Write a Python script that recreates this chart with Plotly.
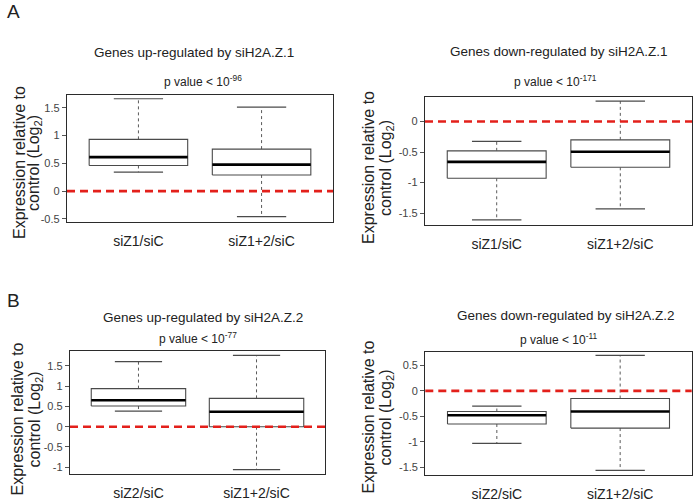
import plotly.graph_objects as go

W, H = 696, 503

# ---------------- data ----------------
categories_A = ["siZ1/siC", "siZ1+2/siC"]
categories_B = ["siZ2/siC", "siZ1+2/siC"]

# Genes up-regulated by siH2A.Z.1
up1_lower = [0.34, -0.46]
up1_q1 = [0.46, 0.29]
up1_med = [0.61, 0.475]
up1_q3 = [0.93, 0.755]
up1_upper = [1.66, 1.51]

# Genes down-regulated by siH2A.Z.1
down1_lower = [-1.61, -1.43]
down1_q1 = [-0.93, -0.75]
down1_med = [-0.66, -0.495]
down1_q3 = [-0.48, -0.30]
down1_upper = [-0.326, 0.336]

# Genes up-regulated by siH2A.Z.2
up2_lower = [0.385, -1.06]
up2_q1 = [0.51, 0.0]
up2_med = [0.655, 0.37]
up2_q3 = [0.94, 0.70]
up2_upper = [1.61, 1.76]

# Genes down-regulated by siH2A.Z.2
down2_lower = [-1.03, -1.56]
down2_q1 = [-0.65, -0.73]
down2_med = [-0.477, -0.405]
down2_q3 = [-0.405, -0.15]
down2_upper = [-0.30, 0.696]

ticks_up1 = [1.5, 1, 0.5, 0, -0.5]
ticks_down1 = [0, -0.5, -1, -1.5]
ticks_up2 = [1.5, 1, 0.5, 0, -0.5, -1]
ticks_down2 = [0.5, 0, -0.5, -1, -1.5]

titles = ["Genes up-regulated by siH2A.Z.1", "Genes down-regulated by siH2A.Z.1",
          "Genes up-regulated by siH2A.Z.2", "Genes down-regulated by siH2A.Z.2"]
pvals = ["p value < 10<sup>-96</sup>", "p value < 10<sup>-171</sup>",
         "p value < 10<sup>-77</sup>", "p value < 10<sup>-11</sup>"]
ylabel1 = "Expression relative to"
ylabel2 = "control (Log<sub>2</sub>)"
panel_letters = ["A", "B"]

# ---------------- layout helpers ----------------
FONT = "Liberation Sans, Arial, Helvetica, sans-serif"

def px_x(p):
    return p / W

def px_y(p):
    return 1 - p / H

panels = [
    dict(cats=categories_A, lo=up1_lower, q1=up1_q1, med=up1_med, q3=up1_q3, hi=up1_upper,
         ticks=ticks_up1, yr=[-0.55, 1.72], box=(67, 333, 96, 223),
         title_xy=(194, 53), p_xy=(203, 81), ylab_x=(19, 34), ylab_y=164),
    dict(cats=categories_A, lo=down1_lower, q1=down1_q1, med=down1_med, q3=down1_q3, hi=down1_upper,
         ticks=ticks_down1, yr=[-1.69, 0.396], box=(425, 692, 98, 226),
         title_xy=(559, 52), p_xy=(555, 81), ylab_x=(369, 387), ylab_y=169),
    dict(cats=categories_B, lo=up2_lower, q1=up2_q1, med=up2_med, q3=up2_q3, hi=up2_upper,
         ticks=ticks_up2, yr=[-1.18, 1.88], box=(70, 325, 352.7, 477.3),
         title_xy=(203, 319), p_xy=(198, 340), ylab_x=(17, 35), ylab_y=422),
    dict(cats=categories_B, lo=down2_lower, q1=down2_q1, med=down2_med, q3=down2_q3, hi=down2_upper,
         ticks=ticks_down2, yr=[-1.66, 0.76], box=(425.3, 691.7, 354.3, 478.3),
         title_xy=(566, 317), p_xy=(559, 341), ylab_x=(368, 386), ylab_y=420),
]

BOX_HALF = 0.4
CAP_HALF = 0.2
BOX_COLOR = "#4a4a4a"
WHISK_COLOR = "#5a5a5a"

fig = go.Figure()
annotations = []
shapes = []

for i, P in enumerate(panels):
    n = i + 1
    xa = "x" if n == 1 else f"x{n}"
    ya = "y" if n == 1 else f"y{n}"
    for c in range(len(P["cats"])):
        q1, q3, md, lo, hi = P["q1"][c], P["q3"][c], P["med"][c], P["lo"][c], P["hi"][c]
        # whiskers (dotted)
        fig.add_trace(go.Scatter(x=[c, c, None, c, c], y=[q3, hi, None, q1, lo], mode="lines",
                                 line=dict(color=WHISK_COLOR, width=1, dash="dot"),
                                 xaxis=xa, yaxis=ya, showlegend=False, hoverinfo="skip"))
        # caps
        fig.add_trace(go.Scatter(x=[c - CAP_HALF, c + CAP_HALF, None, c - CAP_HALF, c + CAP_HALF],
                                 y=[hi, hi, None, lo, lo], mode="lines",
                                 line=dict(color=BOX_COLOR, width=1.2),
                                 xaxis=xa, yaxis=ya, showlegend=False, hoverinfo="skip"))
        # box
        fig.add_trace(go.Scatter(x=[c - BOX_HALF, c + BOX_HALF, c + BOX_HALF, c - BOX_HALF, c - BOX_HALF],
                                 y=[q1, q1, q3, q3, q1], mode="lines", fill="toself",
                                 fillcolor="white",
                                 line=dict(color=BOX_COLOR, width=1.1),
                                 xaxis=xa, yaxis=ya, showlegend=False, hoverinfo="skip"))
        # median
        fig.add_trace(go.Scatter(x=[c - BOX_HALF, c + BOX_HALF], y=[md, md], mode="lines",
                                 line=dict(color="black", width=2.6),
                                 xaxis=xa, yaxis=ya, showlegend=False, hoverinfo="skip"))

    x0, x1, y0, y1 = P["box"]
    axis_common = dict(showline=True, mirror=True, linecolor="#2b2b2b", linewidth=1.3,
                       showgrid=False, zeroline=False)
    fig.layout[("xaxis" if n == 1 else f"xaxis{n}")] = dict(
        domain=[px_x(x0), px_x(x1)], anchor=ya, range=[-0.58, 1.58],
        tickmode="array", tickvals=list(range(len(P["cats"]))), ticktext=P["cats"],
        ticks="", ticklabelstandoff=6,
        tickfont=dict(family=FONT, size=14, color="#222222"), **axis_common)
    fig.layout[("yaxis" if n == 1 else f"yaxis{n}")] = dict(
        domain=[px_y(y1), px_y(y0)], anchor=xa, range=P["yr"],
        tickmode="array", tickvals=P["ticks"], ticktext=[f"{t:g}" for t in P["ticks"]],
        ticks="outside", ticklen=4, tickcolor="#555555", tickwidth=1,
        tickfont=dict(family=FONT, size=11, color="#444444"), **axis_common)

    # red dashed zero line
    shapes.append(dict(type="line", xref=f"{xa} domain", x0=0, x1=1, yref=ya, y0=0, y1=0,
                       line=dict(color="#e3201b", width=2.6, dash="8px,5px"), layer="above"))

    tx, ty = P["title_xy"]
    annotations.append(dict(text=titles[i], x=px_x(tx), y=px_y(ty), xref="paper", yref="paper",
                            showarrow=False, xanchor="center", yanchor="middle",
                            font=dict(family=FONT, size=13.5, color="#222222")))
    pxx, pyy = P["p_xy"]
    annotations.append(dict(text=pvals[i], x=px_x(pxx), y=px_y(pyy), xref="paper", yref="paper",
                            showarrow=False, xanchor="center", yanchor="middle",
                            font=dict(family=FONT, size=12, color="#222222")))
    lx1, lx2 = P["ylab_x"]
    for lx, lt in ((lx1, ylabel1), (lx2, ylabel2)):
        annotations.append(dict(text=lt, x=px_x(lx), y=px_y(P["ylab_y"]), xref="paper", yref="paper",
                                showarrow=False, xanchor="center", yanchor="middle", textangle=-90,
                                font=dict(family=FONT, size=16, color="#222222")))

for letter, (lx, ly) in zip(panel_letters, [(13, 12), (13, 302)]):
    annotations.append(dict(text=letter, x=px_x(lx), y=px_y(ly), xref="paper", yref="paper",
                            showarrow=False, xanchor="center", yanchor="middle",
                            font=dict(family=FONT, size=19, color="#222222")))

fig.update_layout(width=W, height=H, margin=dict(l=0, r=0, t=0, b=0),
                  paper_bgcolor="white", plot_bgcolor="white", showlegend=False,
                  annotations=annotations, shapes=shapes)

fig.write_html("out.html", config={"displayModeBar": False},
               post_script="document.body.style.margin='0';document.body.style.overflow='hidden';")
